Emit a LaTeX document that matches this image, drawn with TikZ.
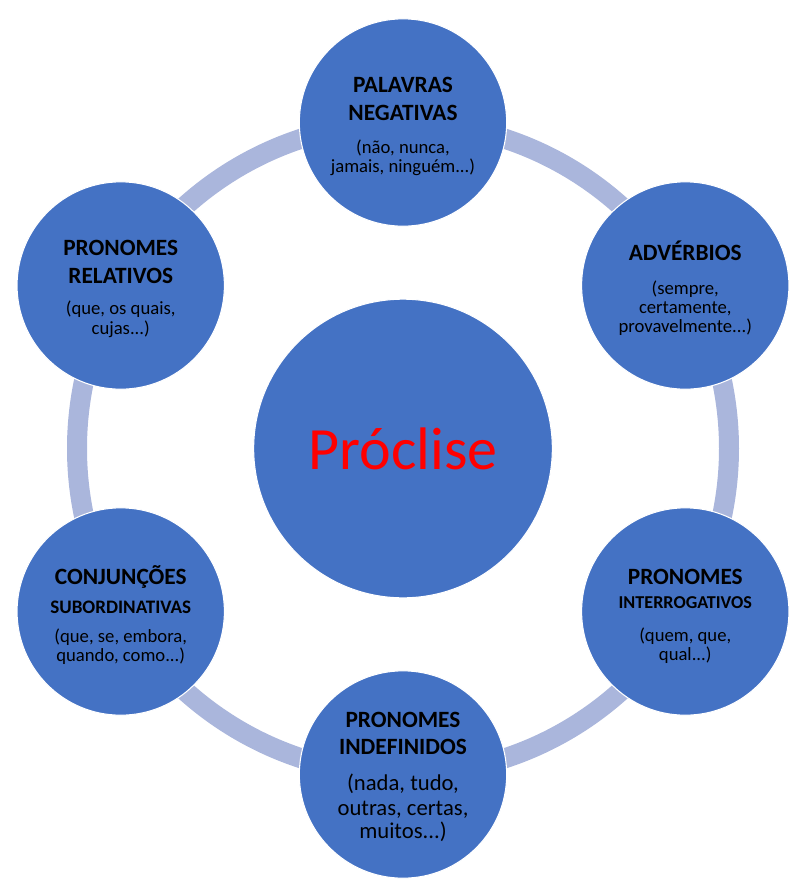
\documentclass[tikz,border=0pt]{standalone}
\usepackage{fontspec}
\setmainfont{Carlito}
\usetikzlibrary{positioning}

\definecolor{circleBlue}{HTML}{4472C4}
\definecolor{ringBlue}{RGB}{170,182,220}
\definecolor{procliseRed}{RGB}{255,0,0}

\newcommand{\exampleFont}{\fontsize{14}{14.2}\selectfont\lineskiplimit-20pt\relax}
\newcommand{\titleFont}{\fontsize{17.5}{20}\selectfont\bfseries}
\newcommand{\interFont}{\fontsize{13.6}{15}\selectfont\bfseries}
\newcommand{\subordFont}{\fontsize{14.3}{15}\selectfont\bfseries}
\newcommand{\bigExampleFont}{\fontsize{17}{18}\selectfont}

\begin{document}
\begin{tikzpicture}[x=0.75pt, y=-0.75pt, node distance=244.5pt and 211.7pt, on grid,
    outer/.style={circle, fill=circleBlue, draw=white, line width=0.8pt,
        minimum size=155.5pt, inner sep=0pt, align=center, text=black,
        font=\exampleFont},
    hub/.style={circle, fill=circleBlue, draw=white, line width=0.8pt,
        minimum size=224pt, inner sep=0pt, text=procliseRed,
        font=\fontsize{45}{50}\selectfont}]

% --- DEFINITIONS ---
\def\ringRadius{326}  % distance from the centre to each outer circle
\def\ringWidth{15pt}  % thickness of the light ring

% --- FRAME ---
\useasboundingbox (0,0) rectangle (806,894);

% --- 1. CENTRE ---
\node[hub] (proclise) at (403,448.5) {Próclise};

% --- 2. RING (behind the circles) ---
\draw[ringBlue, line width=\ringWidth] (proclise.center) circle (\ringRadius);

% --- 3. OUTER CIRCLES ---
% (one font per line: each line of an aligned node is its own group;
%  the invisible rules push the text a little down in its circle)
\node[outer, above=of proclise] (negativas)
    {\titleFont\rule{0pt}{17.2pt}PALAVRAS\\[6.8pt]\titleFont NEGATIVAS\\[10.5pt]
     (não, nunca,\\jamais, ninguém...)};

\node[outer, above right=122.25pt and 211.7pt of proclise] (adverbios)
    {\titleFont\rule{0pt}{18.5pt}ADVÉRBIOS\\[11.5pt](sempre,\\certamente,\\provavelmente...)};

\node[outer, below right=122.25pt and 211.7pt of proclise] (interrogativos)
    {\titleFont\rule{0pt}{19pt}PRONOMES\\[3.5pt]\interFont INTERROGATIVOS\\[10.5pt]
     (quem, que,\\qual...)};

\node[outer, below=of proclise] (indefinidos)
    {\titleFont\rule{0pt}{15pt}PRONOMES\\[6pt]\titleFont INDEFINIDOS\\[13.5pt]
     \bigExampleFont (nada, tudo,\\[4pt]\bigExampleFont outras, certas,\\[3.5pt]
     \bigExampleFont muitos...)};

\node[outer, below left=122.25pt and 211.7pt of proclise] (conjuncoes)
    {\titleFont\rule{0pt}{19pt}CONJUNÇÕES\\[8pt]\subordFont SUBORDINATIVAS\\[7pt]
     (que, se, embora,\\quando, como...)};

\node[outer, above left=122.25pt and 211.7pt of proclise] (relativos)
    {\titleFont\rule{0pt}{17.2pt}PRONOMES\\[6.8pt]\titleFont RELATIVOS\\[9pt]
     (que, os quais,\\[1pt]cujas...)};

\end{tikzpicture}
\end{document}
